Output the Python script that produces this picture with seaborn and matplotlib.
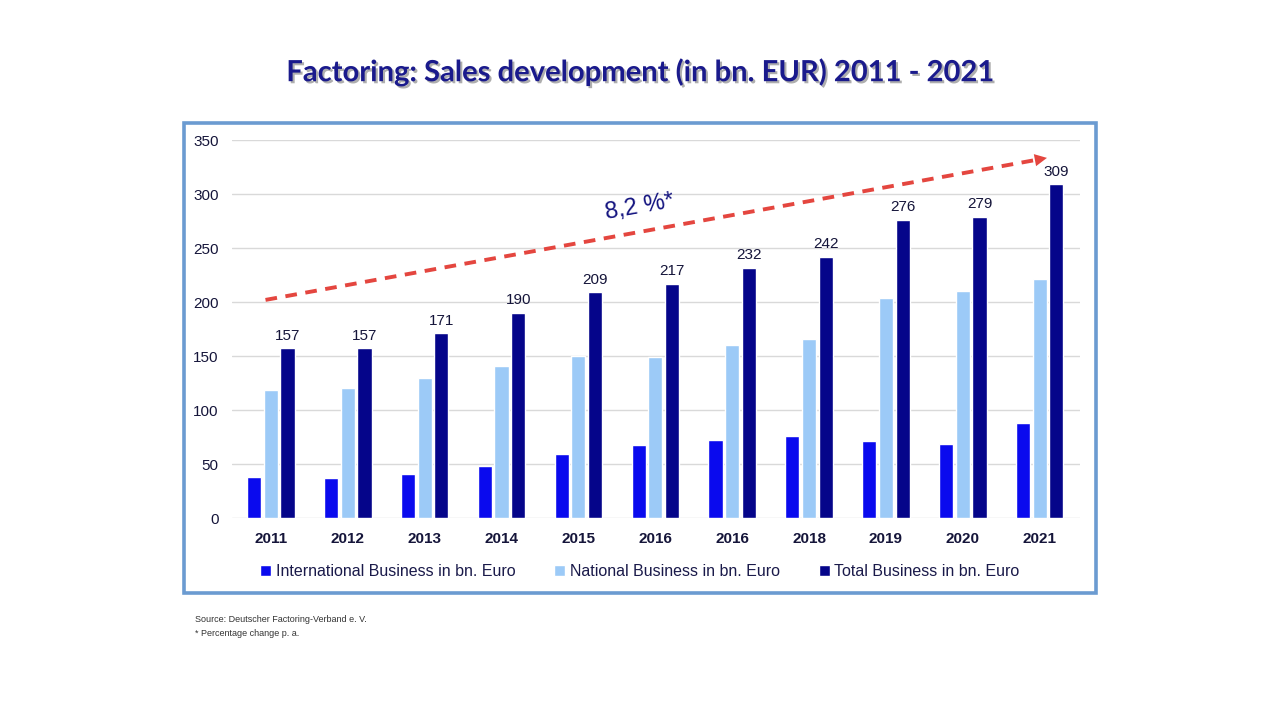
import numpy as np
import pandas as pd
import matplotlib
matplotlib.use("Agg")
import matplotlib.pyplot as plt
import matplotlib.patheffects as pe
from matplotlib.patches import Rectangle
import seaborn as sns

# ---- data ----
years = ["2011", "2012", "2013", "2014", "2015", "2016",
         "2016", "2018", "2019", "2020", "2021"]
international = [38, 37, 41, 48, 59, 68, 72, 76, 71, 69, 88]
national = [119, 120, 130, 141, 150, 149, 160, 166, 204, 210, 221]
total = [157, 157, 171, 190, 209, 217, 232, 242, 276, 279, 309]
series_names = ["International Business in bn. Euro",
                "National Business in bn. Euro",
                "Total Business in bn. Euro"]
trend_start, trend_end = 202, 334
trend_label = "8,2 %*"
title = "Factoring: Sales development (in bn. EUR) 2011 - 2021"
notes = ["Source: Deutscher Factoring-Verband e. V.", "* Percentage change p. a."]

colors = ["#0a0aee", "#9ccaf7", "#05058a"]

sns.set_theme(style="white")
plt.rcParams["font.family"] = ["Liberation Sans", "DejaVu Sans"]

pos = list(range(len(years)))
df = pd.DataFrame({
    "pos": pos * 3,
    "value": international + national + total,
    "series": np.repeat(series_names, len(years)),
})

fig = plt.figure(figsize=(12.8, 7.24), dpi=100)
ax = fig.add_axes([0.181, 0.2845, 0.6625, 0.522])

sns.barplot(data=df, x="pos", y="value", hue="series", hue_order=series_names,
            palette=colors, order=pos, width=0.65, gap=0.15, saturation=1,
            ax=ax, legend=True)

ax.bar_label(ax.containers[2], labels=[str(v) for v in total], padding=4,
             fontsize=11, color="#15153a")

ax.set_ylim(0, 350)
ax.set_yticks(range(0, 351, 50))
ax.set_xlim(-0.51, len(years) - 0.48)
ax.set_xticks(pos)
ax.set_xticklabels(years, fontsize=11, color="#15153a", fontweight="bold")
ax.tick_params(axis="y", labelsize=11, labelcolor="#15153a", pad=9.5, length=0)
ax.tick_params(axis="x", length=0, pad=10)
ax.yaxis.grid(True, color="#d9d9d9", linewidth=1)
ax.set_axisbelow(True)
for s in ax.spines.values():
    s.set_visible(False)
ax.set_xlabel("")
ax.set_ylabel("")

# trend arrow
x0, x1 = -0.07, len(years) - 1 + 0.13
ax.plot([x0, x1 - 0.15], [trend_start, trend_end - 2], color="#e4463f",
        linestyle=(0, (3, 2.2)), linewidth=2.8, solid_capstyle="butt")
ax.annotate("", xy=(x1, trend_end), xytext=(x1 - 0.3, trend_end - 4),
            arrowprops=dict(arrowstyle="-|>", color="#e4463f", lw=0,
                            mutation_scale=22))
ax.text(4.8, 288, trend_label, fontsize=17, color="#141480",
        rotation=10, ha="center", va="center")

# legend
handles, labels = ax.get_legend_handles_labels()
ax.legend_.remove()
fig.legend(handles, labels, loc="center", bbox_to_anchor=(0.5, 0.211),
           ncol=3, frameon=False, fontsize=11.5, handlelength=0.7,
           handleheight=0.7, handletextpad=0.3, columnspacing=2.4,
           labelcolor="#1a1a4a")

# frame around the chart
fig.patches.append(Rectangle((0.1438, 0.181), 0.7125, 0.649,
                             transform=fig.transFigure, fill=False,
                             edgecolor="#6b9bd1", linewidth=2.6))

fig.text(0.5, 0.9, title, ha="center", va="center", fontsize=21,
         fontweight="bold", color="#1a1a8c", family=["Lato", "DejaVu Sans"],
         path_effects=[pe.withSimplePatchShadow(offset=(1.5, -1.5),
                                                shadow_rgbFace="#9a9a9a",
                                                alpha=0.8)])
fig.text(0.152, 1 - 620 / 724, notes[0], fontsize=6.5, color="#333333",
         va="center")
fig.text(0.152, 1 - 634 / 724, notes[1], fontsize=6.5, color="#333333",
         va="center")

fig.savefig("out.png", dpi=100)
